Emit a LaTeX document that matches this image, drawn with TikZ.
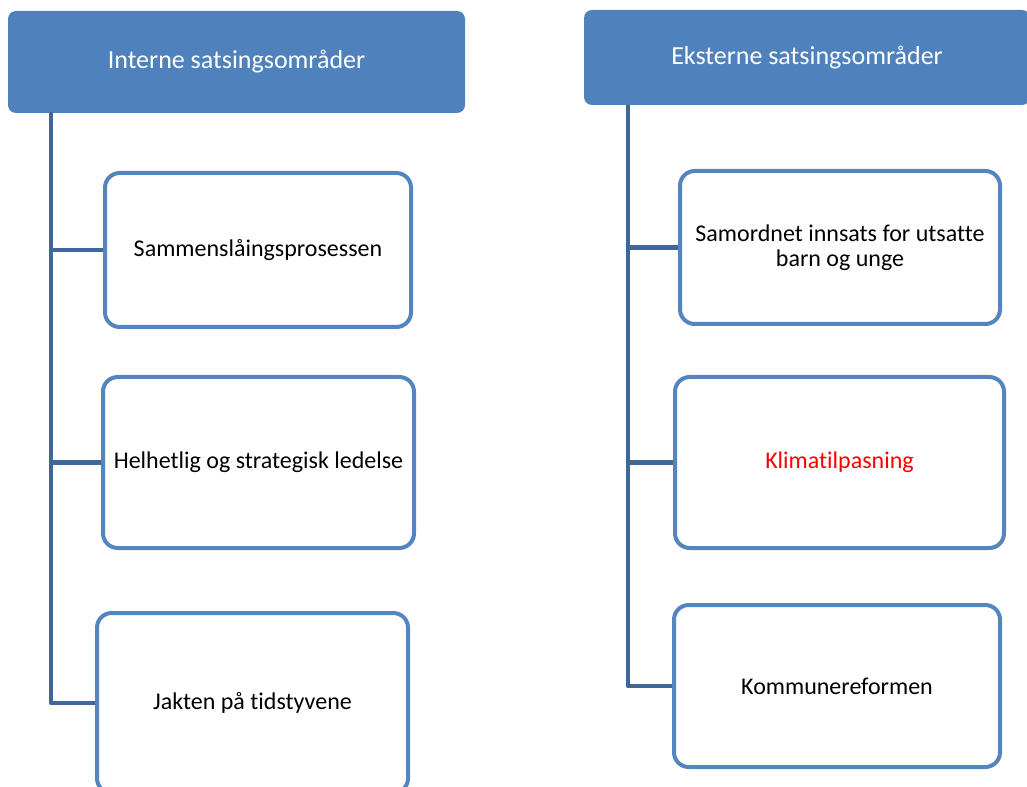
\documentclass[tikz,border=0pt]{standalone}
\usepackage{fontspec}
\setmainfont{Carlito}[Ligatures=NoCommon]
\definecolor{hdrblue}{HTML}{4F81BD}
\definecolor{boxblue}{HTML}{5585BF}
\definecolor{linkblue}{HTML}{3F6898}
\begin{document}
\begin{tikzpicture}[x=0.75pt,y=-0.75pt,
  header/.style={rounded corners=6pt, fill=hdrblue, draw=none, text=white,
    font=\fontsize{19.5}{22}\selectfont, inner sep=0pt},
  itembox/.style={rounded corners=11pt, draw=boxblue, line width=3pt, fill=white,
    font=\fontsize{18}{19}\selectfont, align=center, inner sep=0pt},
  link/.style={draw=linkblue, line width=3.2pt}]
\useasboundingbox (0,0) rectangle (1027,787);
\clip (0,0) rectangle (1027,787);

% headers
\node[header, minimum width=342.75pt, minimum height=76.5pt] (hl) at (236.5,62) {Interne satsingsområder};
\node[header, minimum width=334.5pt, minimum height=71.25pt] (hr) at (807,57.5) {Eksterne satsingsområder};

% left boxes
\node[itembox, minimum width=229.5pt, minimum height=115.5pt] (l1) at (258,250) {Sammenslåingsprosessen};
\node[itembox, minimum width=233.25pt, minimum height=128.25pt] (l2) at (258.5,462.5) {Helhetlig og strategisk ledelse};
\node[itembox, minimum width=233.25pt, minimum height=135pt] (l3) at (252.5,703) {Jakten på tidstyvene};

% right boxes
\node[itembox, minimum width=240pt, minimum height=114.75pt] (r1) at (840,247.5) {Samordnet innsats for utsatte\\barn og unge};
\node[itembox, minimum width=246.75pt, minimum height=128.25pt, text=red] (r2) at (839.5,462.5) {Klimatilpasning};
\node[itembox, minimum width=244.5pt, minimum height=121.5pt] (r3) at (837,686) {Kommunereformen};

% connectors
\coordinate (lt) at (51,112);
\coordinate (rt) at (628,105);
\draw[link, line join=round] (lt) |- (l3.west);
\draw[link] (l1.west -| lt) -- (l1.west);
\draw[link] (l2.west -| lt) -- (l2.west);
\draw[link, line join=round] (rt) |- (r3.west);
\draw[link] (r1.west -| rt) -- (r1.west);
\draw[link] (r2.west -| rt) -- (r2.west);
\end{tikzpicture}
\end{document}
